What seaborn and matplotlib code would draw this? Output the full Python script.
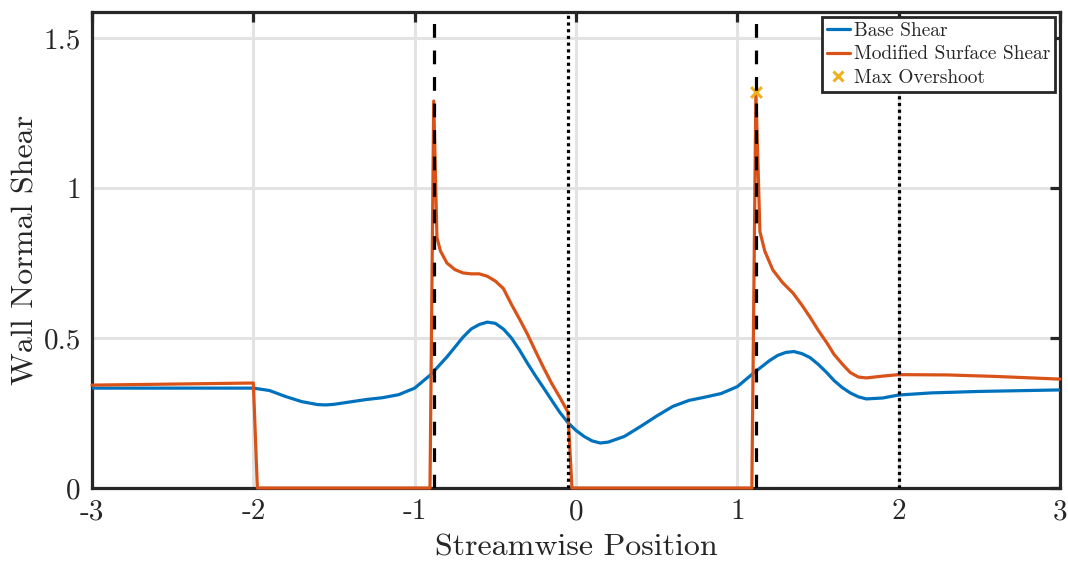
import matplotlib
matplotlib.use("Agg")
import matplotlib.pyplot as plt
from matplotlib.lines import Line2D
import seaborn as sns
import pandas as pd

# ---- data ----
base_x = [-3.0, -2.5, -2.0, -1.9, -1.8, -1.7, -1.6, -1.55, -1.5, -1.4, -1.3, -1.2, -1.1, -1.0,
          -0.9, -0.8, -0.7, -0.65, -0.6, -0.55, -0.5, -0.45, -0.4, -0.35, -0.3, -0.25, -0.2,
          -0.15, -0.1, -0.05, 0.0, 0.05, 0.1, 0.15, 0.2, 0.3, 0.4, 0.5, 0.6, 0.7, 0.8, 0.9,
          1.0, 1.1, 1.2, 1.25, 1.3, 1.35, 1.4, 1.45, 1.5, 1.55, 1.6, 1.65, 1.7, 1.75, 1.8,
          1.9, 2.0, 2.2, 2.5, 3.0]
base_y = [0.333, 0.333, 0.333, 0.325, 0.305, 0.288, 0.278, 0.277, 0.279, 0.287, 0.295, 0.301,
          0.311, 0.333, 0.378, 0.437, 0.503, 0.530, 0.545, 0.553, 0.549, 0.530, 0.500, 0.460,
          0.415, 0.373, 0.333, 0.292, 0.252, 0.218, 0.192, 0.172, 0.157, 0.150, 0.153, 0.172,
          0.205, 0.240, 0.272, 0.292, 0.303, 0.315, 0.338, 0.383, 0.425, 0.442, 0.452, 0.455,
          0.448, 0.435, 0.413, 0.387, 0.358, 0.335, 0.317, 0.304, 0.297, 0.300, 0.310, 0.317,
          0.322, 0.327]

mod_x = [-3.0, -2.0, -1.975, -0.905, -0.882, -0.862, -0.84, -0.8, -0.75, -0.7, -0.65, -0.6,
         -0.55, -0.5, -0.45, -0.4, -0.35, -0.3, -0.25, -0.2, -0.15, -0.1, -0.05, -0.025, 1.09,
         1.115, 1.14, 1.17, 1.22, 1.28, 1.345, 1.4, 1.45, 1.5, 1.556, 1.6, 1.656, 1.7, 1.75,
         1.8, 1.9, 2.0, 2.3, 2.6, 3.0]
mod_y = [0.343, 0.350, 0.0, 0.0, 1.29, 0.835, 0.79, 0.75, 0.728, 0.717, 0.714, 0.714,
         0.706, 0.690, 0.665, 0.612, 0.563, 0.512, 0.455, 0.400, 0.348, 0.302, 0.253, 0.0,
         0.0, 1.32, 0.855, 0.79, 0.727, 0.685, 0.650, 0.610, 0.570, 0.527, 0.483, 0.445, 0.410,
         0.385, 0.370, 0.367, 0.373, 0.378, 0.377, 0.372, 0.363]

overshoot_x = [1.115]
overshoot_y = [1.32]

dashed_x = [-0.88, 1.115]
dotted_x = [-0.05, 2.0]

x_ticks = [-3, -2, -1, 0, 1, 2, 3]
x_tick_labels = ["-3", "-2", "-1", "0", "1", "2", "3"]
y_ticks = [0, 0.5, 1, 1.5]
y_tick_labels = ["0", "0.5", "1", "1.5"]

series_names = ["Base Shear", "Modified Surface Shear", "Max Overshoot"]
c_blue, c_orange, c_yellow = "#0072BD", "#D95319", "#EDB120"

# ---- style ----
sns.set_style("white")
plt.rcParams["font.family"] = ["cmr10", "DejaVu Serif"]
plt.rcParams["axes.unicode_minus"] = False
plt.rcParams["mathtext.fontset"] = "cm"
plt.rcParams["axes.formatter.use_mathtext"] = True

fig = plt.figure(figsize=(10.68, 5.66), dpi=100)
ax = fig.add_axes([92 / 1068, 1 - 488 / 566, (1060 - 92) / 1068, (488 - 12) / 566])

df_base = pd.DataFrame({"x": base_x, "y": base_y})
df_mod = pd.DataFrame({"x": mod_x, "y": mod_y})

sns.lineplot(data=df_base, x="x", y="y", ax=ax, color=c_blue, lw=2.3,
             estimator=None, sort=False, zorder=3)
sns.lineplot(data=df_mod, x="x", y="y", ax=ax, color=c_orange, lw=2.3,
             estimator=None, sort=False, zorder=3.1, clip_on=False)
sns.scatterplot(x=overshoot_x, y=overshoot_y, ax=ax, marker="x", color=c_yellow,
                s=60, linewidth=2.2, zorder=3.2)

for xv in dashed_x:
    ax.axvline(xv, color="black", lw=2.3, linestyle=(0, (4.3, 4.0)), zorder=4)
for xv in dotted_x:
    ax.axvline(xv, color="black", lw=2.3, linestyle=(0, (1.0, 1.1)), zorder=4)

ax.set_xlim(-3, 3)
ax.set_ylim(0, 1.587)
ax.set_xticks(x_ticks)
ax.set_xticklabels(x_tick_labels)
ax.set_yticks(y_ticks)
ax.set_yticklabels(y_tick_labels)

ax.grid(True, color="#e3e3e3", lw=2.2, zorder=0)
ax.set_axisbelow(True)
for s in ax.spines.values():
    s.set_visible(True)
    s.set_color("#262626")
    s.set_linewidth(2.3)
ax.tick_params(direction="in", length=7, width=2.3, color="#262626",
               top=True, right=True, labelsize=21, pad=8, labelcolor="#262626")

ax.set_xlabel("Streamwise Position", fontsize=23, color="#262626", labelpad=6)
ax.set_ylabel("Wall Normal Shear", fontsize=23, color="#262626", labelpad=3)

handles = [
    Line2D([0], [0], color=c_blue, lw=2.3),
    Line2D([0], [0], color=c_orange, lw=2.3),
    Line2D([0], [0], color=c_yellow, lw=0, marker="x", markersize=7, markeredgewidth=2.2),
]
leg = ax.legend(handles, series_names, loc="upper right", bbox_to_anchor=(0.9948, 0.989),
                fontsize=14, frameon=True, fancybox=False, framealpha=1,
                edgecolor="#262626", handlelength=1.2, handletextpad=0.2,
                borderpad=0.25, labelspacing=0.28, borderaxespad=0)
leg.get_frame().set_linewidth(2.0)
leg.set_zorder(10)

fig.savefig("out.png", dpi=100)
